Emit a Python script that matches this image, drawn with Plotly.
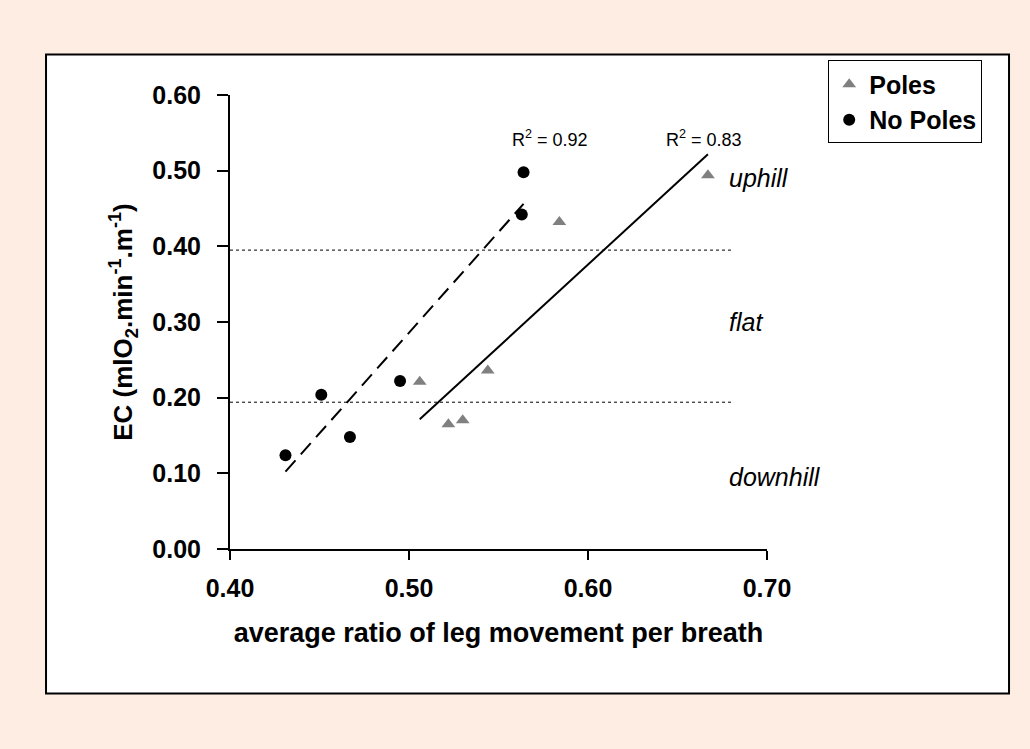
import numpy as np
import plotly.graph_objects as go

# ---- data ----
poles_x = [0.506, 0.522, 0.530, 0.544, 0.584, 0.667]
poles_y = [0.221, 0.165, 0.170, 0.236, 0.432, 0.494]
nopoles_x = [0.431, 0.451, 0.467, 0.495, 0.563, 0.564]
nopoles_y = [0.124, 0.204, 0.148, 0.222, 0.442, 0.498]

zone_bounds = [0.194, 0.395]
zone_x = [0.40, 0.68]
zone_labels = ["uphill", "flat", "downhill"]
zone_label_y = [0.49, 0.30, 0.095]

r2_labels = ["R<sup>2</sup> = 0.92", "R<sup>2</sup> = 0.83"]
r2_x = [0.579, 0.665]
r2_y = [0.542, 0.542]

x_ticks = [0.40, 0.50, 0.60, 0.70]
y_ticks = [0.00, 0.10, 0.20, 0.30, 0.40, 0.50, 0.60]

FONT = "Arial, Liberation Sans, sans-serif"
BG = "rgb(253,237,226)"

fig = go.Figure()

# zone separator lines
for yb in zone_bounds:
    fig.add_trace(go.Scatter(x=zone_x, y=[yb, yb], mode="lines",
                             line=dict(color="black", width=1, dash="dot"),
                             showlegend=False, hoverinfo="skip"))

# regression lines
def fit_line(xs, ys):
    m, b = np.polyfit(xs, ys, 1)
    xl = np.array([min(xs), max(xs)])
    return xl, m * xl + b

xl, yl = fit_line(nopoles_x, nopoles_y)
fig.add_trace(go.Scatter(x=xl, y=yl, mode="lines",
                         line=dict(color="black", width=2, dash="15px,8px"),
                         showlegend=False, hoverinfo="skip"))
xl, yl = fit_line(poles_x, poles_y)
fig.add_trace(go.Scatter(x=xl, y=yl, mode="lines",
                         line=dict(color="black", width=2),
                         showlegend=False, hoverinfo="skip"))

# markers
fig.add_trace(go.Scatter(x=poles_x, y=poles_y, mode="markers", name="Poles",
                         marker=dict(symbol="triangle-up", size=12, color="rgb(128,128,128)"),
                         legendgroup="a"))
fig.add_trace(go.Scatter(x=nopoles_x, y=nopoles_y, mode="markers", name="No Poles",
                         marker=dict(symbol="circle", size=12, color="black"),
                         legendgroup="b"))

annotations = []
for lab, yv in zip(zone_labels, zone_label_y):
    annotations.append(dict(x=0.678, y=yv, xref="x", yref="y", text=lab,
                            showarrow=False, xanchor="left", yanchor="middle", borderpad=0,
                            font=dict(family=FONT, size=25, color="black", style="italic")))
for lab, xv, yv in zip(r2_labels, r2_x, r2_y):
    annotations.append(dict(x=xv, y=yv, xref="x", yref="y", text=lab,
                            showarrow=False, xanchor="center", yanchor="middle",
                            font=dict(family=FONT, size=18, color="black")))

fig.update_layout(
    width=1030, height=749,
    margin=dict(l=230, r=263, t=95, b=200),
    paper_bgcolor=BG, plot_bgcolor="white",
    font=dict(family=FONT, color="black"),
    showlegend=True,
    legend=dict(x=1.114, y=1.076, xanchor="left", yanchor="top",
                bgcolor="white", bordercolor="black", borderwidth=1,
                font=dict(family=FONT, size=25, color="black", weight="bold"),
                tracegroupgap=0, itemwidth=30),
    annotations=annotations,
    shapes=[dict(type="rect", xref="paper", yref="paper",
                 x0=-0.3426, x1=1.4507, y0=-0.3185, y1=1.089,
                 line=dict(color="black", width=2), fillcolor="white", layer="below")],
)

fig.update_xaxes(range=[0.40, 0.70], tickvals=x_ticks, tickformat=".2f",
                 showline=True, linecolor="black", linewidth=2,
                 ticks="outside", ticklen=9, tickwidth=2, tickcolor="black",
                 showgrid=False, zeroline=False,
                 tickfont=dict(family=FONT, size=25, color="black", weight="bold"),
                 ticklabelstandoff=7,
                 title=dict(text="average ratio of leg movement per breath", standoff=22,
                            font=dict(family=FONT, size=27, color="black", weight="bold")))
fig.update_yaxes(range=[0, 0.60], tickvals=y_ticks, tickformat=".2f",
                 showline=True, linecolor="black", linewidth=2,
                 ticks="outside", ticklen=11, tickwidth=2, tickcolor="black",
                 showgrid=False, zeroline=False,
                 tickfont=dict(family=FONT, size=25, color="black", weight="bold"),
                 ticklabelstandoff=11,
                 title=dict(text="EC (mlO<sub>2</sub>.min<sup>-1</sup>.m<sup>-1</sup>)", standoff=12,
                            font=dict(family=FONT, size=26, color="black", weight="bold")))

fig.write_html("out.html")
